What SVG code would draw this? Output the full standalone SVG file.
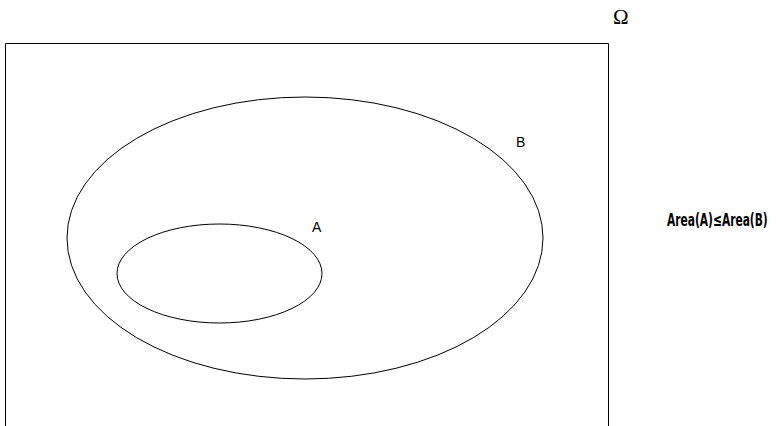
<svg xmlns="http://www.w3.org/2000/svg" width="776" height="426" viewBox="0 0 776 426">
<style>
.s{fill:none;stroke:#000;stroke-width:1}
.t{font-family:"Liberation Sans",Arial,sans-serif;font-size:14px;fill:#000}
</style>
<rect width="776" height="426" fill="#fff"/>
<g id="omega">
<path class="s" d="M5.5,426 V43.5 H608.5 V426"/>
<text class="t" x="613" y="24" style="font-family:'Liberation Serif',serif;font-size:21px">Ω</text>
</g>
<g id="B">
<ellipse class="s" cx="305" cy="238" rx="238" ry="141"/>
<text class="t" x="516" y="147">B</text>
</g>
<g id="A">
<ellipse class="s" cx="219.5" cy="273.5" rx="102.5" ry="49.5"/>
<text class="t" x="312" y="232">A</text>
</g>
<g id="label">
<text class="t" transform="translate(667,226) scale(0.65,1)" x="0" y="0" textLength="155" lengthAdjust="spacingAndGlyphs" style="font-family:'DejaVu Sans Condensed','DejaVu Sans',sans-serif;font-size:18px;font-weight:bold">Area(A)≤Area(B)</text>
</g>
</svg>
